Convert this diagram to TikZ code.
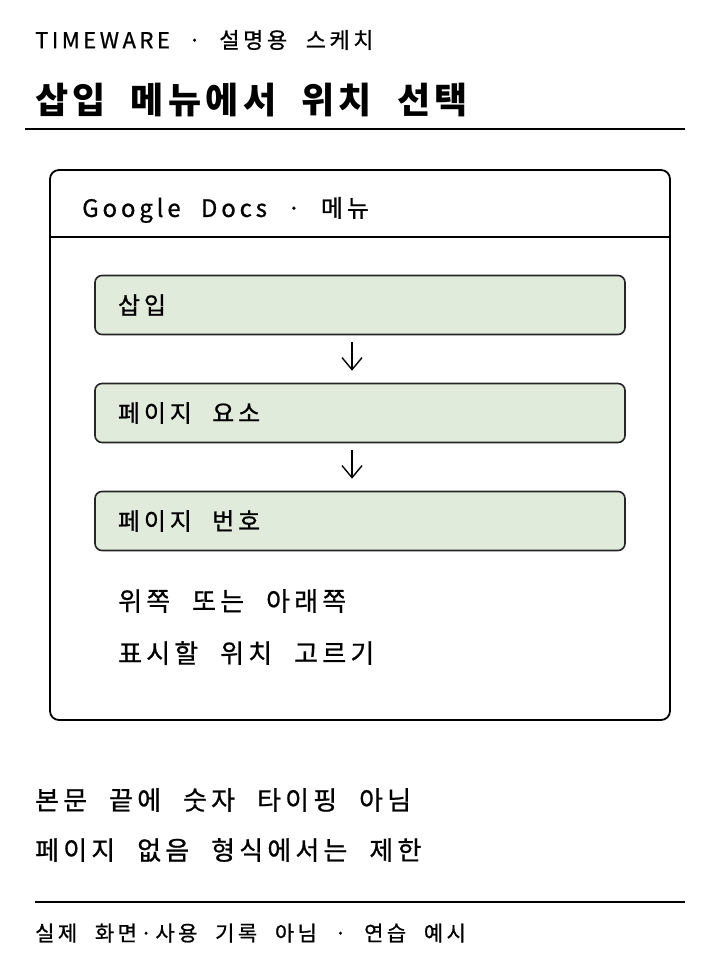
\documentclass[tikz,border=0pt]{standalone}
\usepackage{fontspec}
\setmainfont{Noto Sans CJK KR}
\newfontfamily\kr[LetterSpace=16,WordSpace=2.2,FakeBold=0.8]{Noto Sans CJK KR}
\newfontfamily\krtitle[LetterSpace=12,WordSpace=2]{Noto Sans CJK KR}
\usetikzlibrary{arrows.meta}

\definecolor{boxgreen}{HTML}{E1EBDC}
\tikzset{
  stepbox/.style={draw=black!85, line width=1.6pt, fill=boxgreen,
    rounded corners=7pt, minimum width=530pt, minimum height=59pt,
    inner xsep=0pt, font=\kr\fontsize{24}{28}\selectfont},
  txt/.style={anchor=west, inner sep=0pt},
  flow/.style={-{Straight Barb[length=12pt,width=20pt,line width=1.4pt]}, line width=1.4pt}
}
\newcommand{\boxline}[1]{\makebox[484pt][l]{#1}}

\begin{document}
\begin{tikzpicture}[x=1pt,y=-1pt]
\useasboundingbox (0,0) rectangle (720,960);

\node[txt, font=\kr\fontsize{22}{26}\selectfont] (kicker) at (35,40) {TIMEWARE · 설명용 스케치};
\node[txt, font=\krtitle\bfseries\fontsize{36}{40}\selectfont] (title) at (35,100) {삽입 메뉴에서 위치 선택};
\draw[line width=1.6pt] (25,129) -- (685,129);

\draw[line width=1.8pt, rounded corners=9pt] (50,170) rectangle (670,720);
\draw[line width=1.6pt] (50,237) -- (670,237);
\node[txt, font=\kr\fontsize{24}{28}\selectfont] (menu) at (82,210) {Google Docs · 메뉴};

\node[stepbox] (insert) at (360,305) {\boxline{삽입}};
\node[stepbox] (elem) at (360,413) {\boxline{페이지 요소}};
\node[stepbox] (num) at (360,521) {\boxline{페이지 번호}};

\draw[flow] ([xshift=-8pt,yshift=-7pt]insert.south) -- ([xshift=-8pt,yshift=12pt]elem.north);
\draw[flow] ([xshift=-8pt,yshift=-7pt]elem.south) -- ([xshift=-8pt,yshift=12pt]num.north);

\node[txt, font=\kr\fontsize{26}{30}\selectfont] (pos1) at (118,601) {위쪽 또는 아래쪽};
\node[txt, font=\kr\fontsize{26}{30}\selectfont] (pos2) at (118,653) {표시할 위치 고르기};

\node[txt, font=\kr\fontsize{26}{30}\selectfont] (note1) at (35,800) {본문 끝에 숫자 타이핑 아님};
\node[txt, font=\kr\fontsize{26}{30}\selectfont] (note2) at (35,850) {페이지 없음 형식에서는 제한};

\draw[line width=1.6pt] (35,902) -- (685,902);
\node[txt, font=\kr\fontsize{21}{25}\selectfont] (foot) at (35,933) {실제 화면·사용 기록 아님 · 연습 예시};

\end{tikzpicture}
\end{document}
